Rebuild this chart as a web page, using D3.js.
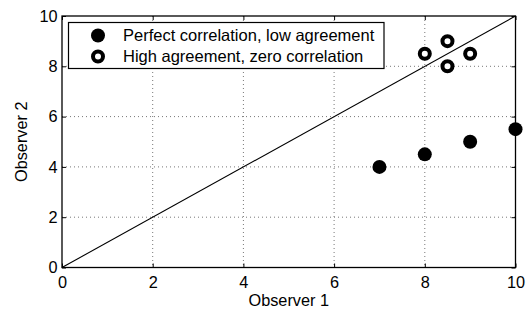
<!DOCTYPE html>
<html><head><meta charset="utf-8">
<script src="https://cdn.jsdelivr.net/npm/d3@7"></script>
<style>body{margin:0;background:#fff}svg{display:block}text{font-family:"Liberation Sans",Arial,sans-serif}</style>
</head><body><svg id="c" width="531" height="311"></svg>
<script>
const ticks = [0, 2, 4, 6, 8, 10];
const perfectX = [7, 8, 9, 10];
const perfectY = [4, 4.5, 5, 5.5];
const highX = [8, 8.5, 8.5, 9];
const highY = [8.5, 9, 8, 8.5];
const lineX = [0, 10];
const lineY = [0, 10];
const legendLabels = ["Perfect correlation, low agreement", "High agreement, zero correlation"];

const FS = 16.3;
const svg = d3.select("#c");
const L = 62, R = 515.5, T = 16, B = 267.5;
const x = d3.scaleLinear().domain([0, 10]).range([L, R]);
const y = d3.scaleLinear().domain([0, 10]).range([B, T]);

// grid
const g = svg.append("g");
g.selectAll("line.gx").data(ticks.slice(1, -1)).enter().append("line")
  .attr("x1", d => x(d)).attr("x2", d => x(d)).attr("y1", T).attr("y2", B)
  .attr("stroke", "#777").attr("stroke-width", 1).attr("stroke-dasharray", "1,3");
g.selectAll("line.gy").data(ticks.slice(1, -1)).enter().append("line")
  .attr("y1", d => y(d)).attr("y2", d => y(d)).attr("x1", L).attr("x2", R)
  .attr("stroke", "#777").attr("stroke-width", 1).attr("stroke-dasharray", "1,3");

// axes
const xAxis = d3.axisBottom(x).tickValues(ticks).tickSize(-4).tickPadding(9);
const yAxis = d3.axisLeft(y).tickValues(ticks).tickSize(-4).tickPadding(4.5);
const xa = svg.append("g").attr("transform", `translate(0,${B})`).call(xAxis);
const ya = svg.append("g").attr("transform", `translate(${L},0)`).call(yAxis);
const xt = svg.append("g").attr("transform", `translate(0,${T})`).call(d3.axisTop(x).tickValues(ticks).tickSize(-4).tickFormat(""));
const yr = svg.append("g").attr("transform", `translate(${R},0)`).call(d3.axisRight(y).tickValues(ticks).tickSize(-4).tickFormat(""));
[xa, ya, xt, yr].forEach(a => {
  a.select(".domain").remove();
  a.selectAll("text").attr("font-size", FS).attr("fill", "#000").style("font-family", '"Liberation Sans",Arial,sans-serif');
  a.selectAll(".tick line").attr("stroke", "#000");
});
svg.append("rect").attr("x", L).attr("y", T).attr("width", R - L).attr("height", B - T)
  .attr("fill", "none").attr("stroke", "#000").attr("stroke-width", 1.3);

// diagonal
svg.append("path").datum(d3.zip(lineX, lineY))
  .attr("d", d3.line().x(d => x(d[0])).y(d => y(d[1])))
  .attr("stroke", "#000").attr("stroke-width", 1.1).attr("fill", "none");

// points
svg.selectAll("circle.p").data(d3.zip(perfectX, perfectY)).enter().append("circle")
  .attr("cx", d => x(d[0])).attr("cy", d => y(d[1])).attr("r", 7).attr("fill", "#000");
svg.selectAll("circle.h").data(d3.zip(highX, highY)).enter().append("circle")
  .attr("cx", d => x(d[0])).attr("cy", d => y(d[1])).attr("r", 5).attr("fill", "#fff")
  .attr("stroke", "#000").attr("stroke-width", 4);

// legend
const lg = svg.append("g");
lg.append("rect").attr("x", 68.5).attr("y", 22.5).attr("width", 315.5).attr("height", 46)
  .attr("fill", "#fff").attr("stroke", "#000").attr("stroke-width", 1.2);
lg.append("circle").attr("cx", 98).attr("cy", 35.5).attr("r", 7).attr("fill", "#000");
lg.append("circle").attr("cx", 98).attr("cy", 56.5).attr("r", 5).attr("fill", "#fff").attr("stroke", "#000").attr("stroke-width", 4);
lg.selectAll("text").data(legendLabels).enter().append("text")
  .attr("x", 123).attr("y", (d, i) => 41 + i * 21).attr("font-size", 16.5).text(d => d);

// axis titles
svg.append("text").attr("x", (L + R) / 2).attr("y", 306).attr("text-anchor", "middle").attr("font-size", FS).text("Observer 1");
svg.append("text").attr("transform", `translate(27,${(T + B) / 2}) rotate(-90)`).attr("text-anchor", "middle").attr("font-size", FS).text("Observer 2");
</script></body></html>
